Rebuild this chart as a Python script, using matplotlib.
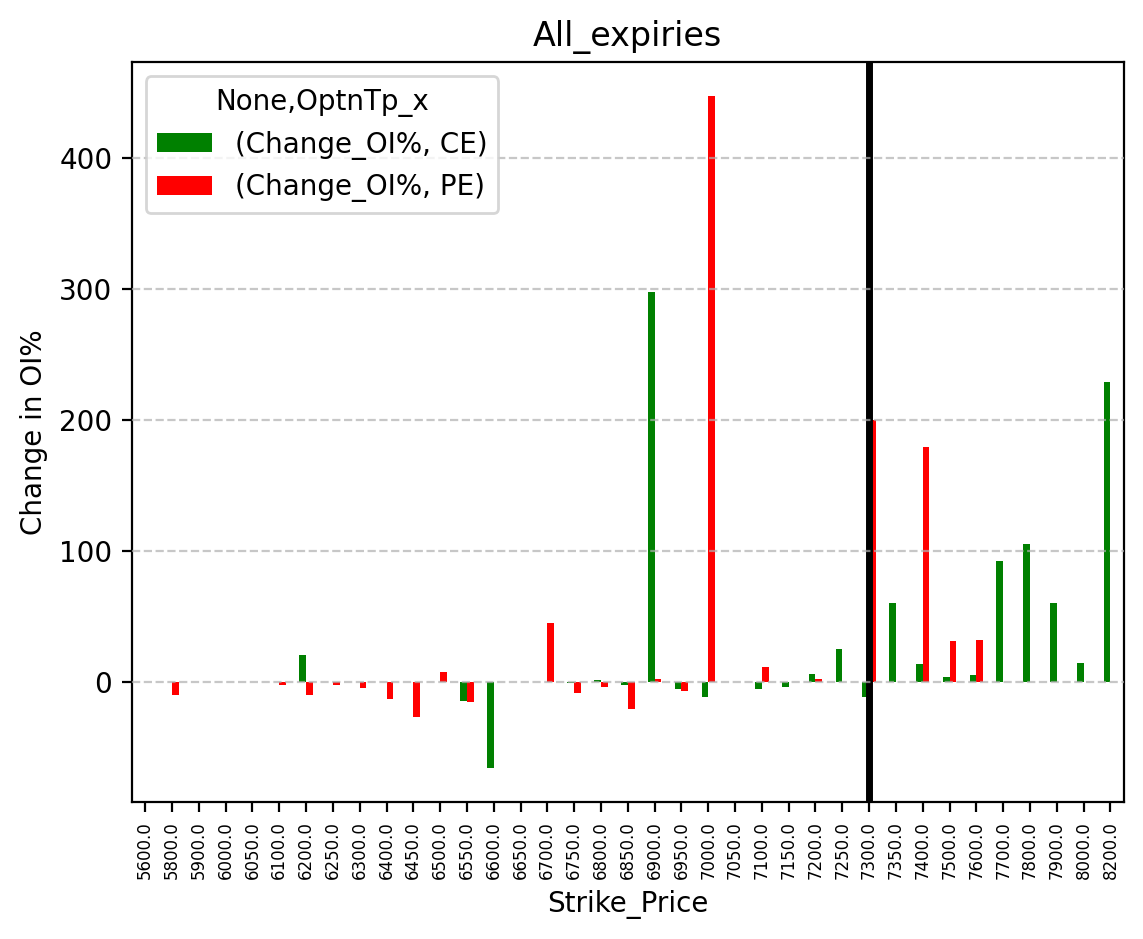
import numpy as np
import matplotlib
matplotlib.use("Agg")
import matplotlib.pyplot as plt

nan = np.nan

# strike prices (x categories)
strikes = [5600.0, 5800.0, 5900.0, 6000.0, 6050.0, 6100.0, 6200.0, 6250.0, 6300.0,
           6400.0, 6450.0, 6500.0, 6550.0, 6600.0, 6650.0, 6700.0, 6750.0, 6800.0,
           6850.0, 6900.0, 6950.0, 7000.0, 7050.0, 7100.0, 7150.0, 7200.0, 7250.0,
           7300.0, 7350.0, 7400.0, 7500.0, 7600.0, 7700.0, 7800.0, 7900.0, 8000.0,
           8200.0]

# change in OI% for calls
ce_change = [nan, nan, nan, nan, nan, nan, 20, nan, -0.5,
             nan, nan, nan, -15, -66, nan, nan, -1, 1.5,
             -2.3, 297, -5.5, -12, nan, -5.5, -4, 6, 25,
             -12, 60, 13, 3.8, 5, 92, 105, 60, 14.5,
             229]

# change in OI% for puts
pe_change = [nan, -10, nan, nan, nan, -3, -10, -2.3, -5,
             -13, -27, 7, -16, nan, nan, 45, -8.5, -4,
             -21, 2.3, -7.5, 447, nan, 11, nan, 2.3, nan,
             200, nan, 179, 31, 32, nan, nan, nan, nan,
             nan]

spot_index = strikes.index(7300.0)

fig, ax = plt.subplots(figsize=(6.4, 4.8), dpi=200)

x = np.arange(len(strikes))
w = 0.25
ax.bar(x - w / 2, ce_change, width=w, color="green", label="(Change_OI%, CE)")
ax.bar(x + w / 2, pe_change, width=w, color="red", label="(Change_OI%, PE)")

ax.set_xlim(-0.5, len(strikes) - 0.5)
ax.set_xticks(x)
ax.set_xticklabels([str(s) for s in strikes], rotation=90, fontsize=6)

ax.axvline(x=spot_index, color="black", linewidth=2.5)
ax.grid(axis="y", linestyle="--", alpha=0.7)
ax.set_axisbelow(False)

ax.set_title("All_expiries")
ax.set_xlabel("Strike_Price")
ax.set_ylabel("Change in OI%")
ax.legend(title="None,OptnTp_x", loc="upper left")

plt.savefig("out.png", bbox_inches="tight")
